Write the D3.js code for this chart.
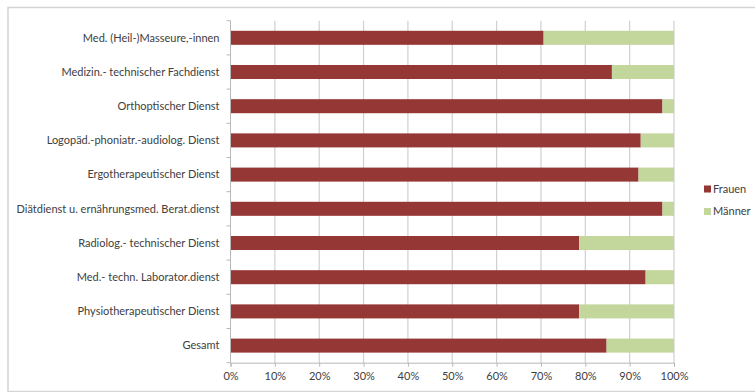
<!DOCTYPE html>
<html><head><meta charset="utf-8">
<script src="https://cdn.jsdelivr.net/npm/d3@7"></script>
<style>
html,body{margin:0;padding:0;background:#fff;}
text{font-family:Lato,"Open Sans",sans-serif;}
</style></head>
<body>
<svg id="c" width="755" height="392"></svg>
<script>
const categories = [
  "Med. (Heil-)Masseure,-innen",
  "Medizin.- technischer Fachdienst",
  "Orthoptischer Dienst",
  "Logopäd.-phoniatr.-audiolog. Dienst",
  "Ergotherapeutischer Dienst",
  "Diätdienst u. ernährungsmed. Berat.dienst",
  "Radiolog.- technischer Dienst",
  "Med.- techn. Laborator.dienst",
  "Physiotherapeutischer Dienst",
  "Gesamt"
];
const frauen = [70.6, 86.0, 97.4, 92.5, 92.0, 97.4, 78.6, 93.6, 78.6, 84.8];
const maenner = frauen.map(f => 100 - f);
const seriesNames = ["Frauen", "Männer"];
const seriesColors = ["#953735", "#c3d69b"];
const tickValues = [0,10,20,30,40,50,60,70,80,90,100];

const svg = d3.select("#c");
// outer frame
svg.append("rect").attr("x",8).attr("y",7.5).attr("width",760).attr("height",384)
  .attr("fill","none").attr("stroke","#d4d4d4").attr("stroke-width",1.5);

const pL = 230.5, pR = 674, pT = 20.7, pB = 362.7;
const x = d3.scaleLinear().domain([0,100]).range([pL,pR]);
const y = d3.scaleBand().domain(categories).range([pT,pB]).paddingInner(0.59).paddingOuter(0.295);

// gridlines
svg.append("g").selectAll("line").data(tickValues.slice(1)).join("line")
  .attr("x1",d=>x(d)).attr("x2",d=>x(d)).attr("y1",pT).attr("y2",pB)
  .attr("stroke","#d0d0d0").attr("stroke-width",1.2);

const data = categories.map((c,i)=>({cat:c, Frauen:frauen[i], "Männer":maenner[i]}));
const stack = d3.stack().keys(seriesNames)(data);
svg.append("g").selectAll("g").data(stack).join("g")
  .attr("fill",(d,i)=>seriesColors[i])
  .selectAll("rect").data(d=>d).join("rect")
  .attr("x",d=>x(d[0])).attr("width",d=>x(d[1])-x(d[0]))
  .attr("y",d=>y(d.data.cat)).attr("height",y.bandwidth());

// x axis
const xa = svg.append("g").attr("transform",`translate(0,${pB})`)
  .call(d3.axisBottom(x).tickValues(tickValues).tickFormat(d=>d+"%").tickSize(4).tickPadding(6));
xa.select(".domain").attr("stroke","#b8b8b8");
xa.selectAll(".tick line").attr("stroke","#b8b8b8");
xa.selectAll("text").attr("fill","#404040").style("font-size","11px");

// y axis
const yBoundaries = d3.range(categories.length+1).map(i => pT + i*(pB-pT)/categories.length);
svg.append("line").attr("x1",pL).attr("x2",pL).attr("y1",pT).attr("y2",pB).attr("stroke","#b8b8b8");
svg.append("g").selectAll("line").data(yBoundaries).join("line")
  .attr("x1",pL-4).attr("x2",pL).attr("y1",d=>d).attr("y2",d=>d).attr("stroke","#b8b8b8");
svg.append("g").selectAll("text").data(categories).join("text")
  .attr("x",pL-11).attr("y",d=>y(d)+y.bandwidth()/2).attr("dy","0.35em")
  .attr("text-anchor","end").attr("fill","#404040").style("font-size","11px").text(d=>d);

// legend
const lg = svg.append("g");
seriesNames.forEach((n,i)=>{
  const ly = 189 + i*22.5;
  lg.append("rect").attr("x",704).attr("y",ly-3.5).attr("width",7).attr("height",7).attr("fill",seriesColors[i]);
  lg.append("text").attr("x",713).attr("y",ly).attr("dy","0.35em").attr("fill","#404040").style("font-size","11px").text(n);
});
</script>
</body></html>
